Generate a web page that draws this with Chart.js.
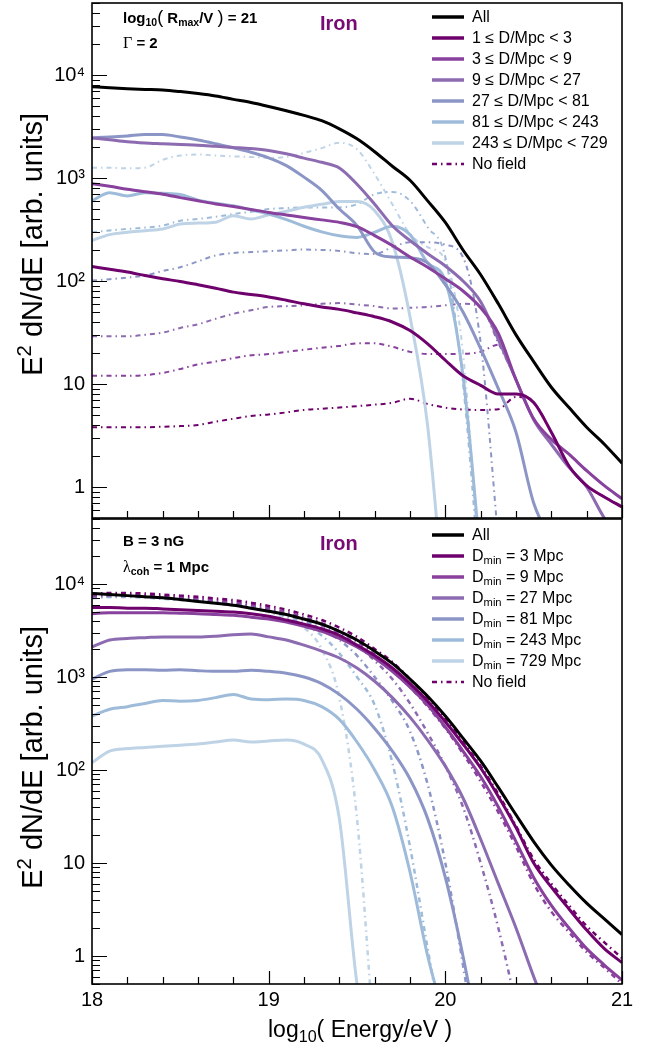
<!DOCTYPE html>
<html><head><meta charset="utf-8">
<script src="https://cdn.jsdelivr.net/npm/chart.js@4.4.0/dist/chart.umd.min.js"></script>
<style>
body{margin:0;background:#fff;width:652px;height:1052px;position:relative;overflow:hidden;font-family:"Liberation Sans",Arial,Helvetica,sans-serif;color:#000;}
canvas{position:absolute;left:0;}
#c1{top:0}
#c2{top:518px}
.t{position:absolute;white-space:nowrap;line-height:20px;}
.b{font-weight:bold;font-size:15px;}
.iron{font-weight:bold;font-size:20px;color:#770a75;}
.lg{position:absolute;left:431px;height:20px;line-height:20px;font-size:16px;white-space:nowrap;}
.lg svg{position:absolute;left:0;top:7px;}
.lg span{position:absolute;left:41px;top:0;}
sub{font-size:70%;vertical-align:-0.3em;line-height:0}
sup{font-size:70%;vertical-align:0.55em;line-height:0}
.ytitle{position:absolute;width:400px;text-align:right;font-size:29px;line-height:29px;transform-origin:left top;transform:rotate(-90deg);white-space:nowrap;}
.xtitle{position:absolute;font-size:23px;line-height:26px;white-space:nowrap;}
.ser{font-family:"Liberation Serif","Times New Roman",serif;font-weight:normal;font-size:16px;}
.par{font-weight:normal;font-size:18px;}
</style></head>
<body>
<canvas id="c1" width="652" height="521"></canvas>
<canvas id="c2" width="652" height="534"></canvas>

<div class="t b" style="left:123px;top:7px;">log<sub>10</sub><span class="par">(</span> R<sub>max</sub>/V <span class="par">)</span> = 21</div>
<div class="t b" style="left:123px;top:33px;"><span class="ser">Γ</span> = 2</div>
<div class="t iron" style="left:320px;top:13px;">Iron</div>

<div class="t b" style="left:123px;top:531px;">B = 3 nG</div>
<div class="t b" style="left:123px;top:557px;"><span class="ser">λ</span><sub>coh</sub> = 1 Mpc</div>
<div class="t iron" style="left:320px;top:533px;">Iron</div>

<div id="leg1"></div>
<div id="leg2"></div>

<div class="ytitle" style="left:18px;top:513px;">E<sup>2</sup> dN/dE [arb. units]</div>
<div class="ytitle" style="left:18px;top:1026px;">E<sup>2</sup> dN/dE [arb. units]</div>
<div class="xtitle" id="xt" style="left:268px;top:1016px;">log<sub>10</sub>( Energy/eV )</div>

<script>
// ---------------- data ----------------
const energy = [18.0,18.1,18.2,18.3,18.4,18.5,18.6,18.7,18.8,18.9,19.0,19.1,19.2,19.3,19.4,19.5,19.6,19.7,19.8,19.9,20.0,20.1,20.2,20.3,20.4,20.5,20.6,20.7,20.8,20.9,21.0];

const yTickValues = [1,10,100,1000,10000];
const yTickLabels = ['1','10','10\u00B2','10\u00B3','10\u2074'];
const xTickValues = [18,19,20,21];
const xTickLabels = ['18','19','20','21'];

// top panel: distance bins, log10(Rmax/V)=21, Gamma=2
const topLabels = ['All','1 \u2264 D/Mpc < 3','3 \u2264 D/Mpc < 9','9 \u2264 D/Mpc < 27','27 \u2264 D/Mpc < 81','81 \u2264 D/Mpc < 243','243 \u2264 D/Mpc < 729','No field'];
const allTop   = [7700,7500,7350,7250,7150,6900,6600,6250,5800,5400,4950,4500,4050,3600,3000,2400,1800,1300,950,600,370,200,115,60,30,16.5,9.3,5.9,3.8,2.6,1.7];
const d1_3     = [138,130,122,113,105,99,92,85,78,74,70,65,60,56,53,49,45,40,33,24.5,17,12,9.7,8.0,8.0,6.6,3.4,1.6,1.03,0.8,0.64];
const d3_9     = [880,830,778,735,695,645,600,560,528,495,463,438,414,392,371,337,276,221,171,136,105,80,55,31,11,4.6,2.9,2.08,1.44,1.03,0.77];
const d9_27    = [2450,2350,2250,2190,2150,2110,2080,2030,1980,1930,1850,1720,1560,1420,1250,870,557,344,247,184,140,100,63,27,11,4.5,2.6,1.55,1.0,0.5,0.3];
const d27_81   = [2450,2500,2560,2640,2640,2500,2340,2150,1960,1780,1570,1320,1020,760,500,345,191,171,168,150,92,50,22,9,3.4,0.7,0.3];
const d81_243  = [600,720,670,720,710,690,610,570,537,490,447,395,340,300,275,265,297,340,282,150,100,12,0.2];
const d243_729 = [247,282,297,308,320,357,365,372,430,400,440,475,520,555,590,590,481,238,45,3.9,0.05];
const nf1_3    = [3.8,3.8,3.8,3.8,3.85,3.9,4.0,4.3,4.6,4.9,5.06,5.3,5.6,5.75,5.9,6.1,6.3,6.56,7.2,6.4,5.9,5.65,5.6,5.7,7.5,6.6,3.4,1.6,1.03,0.8,0.64];
const nf3_9    = [12,12,12,12.2,12.8,14,15.5,16.5,17.8,19,19.5,20.5,21.5,22.5,23.4,24.8,24.8,23,20.5,19.6,19.6,19.6,20.6,24,11,4.6,2.9,2.08,1.44,1.03,0.77];
const nf9_27   = [29,29,29,30,31.5,35,38,43,48,52,56,57,58,60,61,59,57,54,55,56,58,60,56,25,11,4.5,2.6,1.55,1.0,0.5,0.3];
const nf27_81  = [101,104,108,113,125,136,155,177,187,191,195,198,202,200,196,186,183,213,238,238,225,170,25,0.3];
const nf81_243 = [297,310,320,330,345,385,400,420,447,470,499,510,518,518,518,557,695,733,600,332,170,10,0.1];
const nf243_729= [1260,1260,1240,1260,1500,1650,1690,1650,1620,1600,1570,1600,1750,1950,2200,1900,1085,557,286,213,158,20,0.1];

// bottom panel: B = 3 nG, lambda_coh = 1 Mpc, minimum distance
const botLabels = ['All','D<sub>min</sub> = 3 Mpc','D<sub>min</sub> = 9 Mpc','D<sub>min</sub> = 27 Mpc','D<sub>min</sub> = 81 Mpc','D<sub>min</sub> = 243 Mpc','D<sub>min</sub> = 729 Mpc','No field'];
const allBot   = [7900,7700,7500,7300,7100,6800,6500,6200,5900,5500,5100,4700,4200,3700,3100,2500,1900,1400,950,620,380,220,125,65,33,17,9.5,5.8,3.7,2.5,1.7];
const dmin3    = [5600,5600,5500,5500,5400,5300,5200,5100,5000,4800,4500,4100,3700,3300,2800,2200,1700,1250,850,550,330,190,105,52,24,10,5.5,3.2,1.9,1.2,0.85];
const dmin9    = [4800,4900,4900,4900,4900,4850,4800,4700,4600,4400,4200,3900,3500,3100,2600,2100,1600,1150,780,500,290,160,85,40,17,7,3.5,2,1.2,0.8,0.55];
const dmin27   = [2100,2500,2600,2650,2700,2700,2700,2750,2850,2900,2700,2500,2200,1900,1600,1250,900,600,370,210,110,50,18,6,2,0.6,0.2];
const dmin81   = [950,1150,1200,1200,1180,1200,1170,1150,1150,1180,1150,1100,1000,850,650,450,280,160,80,30,7,1.0,0.1];
const dmin243  = [380,450,480,520,560,550,560,600,650,580,570,580,560,480,350,200,100,40,8,1,0.2];
const dmin729  = [120,160,170,175,180,185,190,200,210,200,205,210,190,130,30,0.5,0.05];
const nfb3     = [7800,8000,8000,7900,7700,7500,7300,7000,6700,6300,5800,5300,4700,4100,3400,2700,2000,1450,950,600,360,200,110,55,25,11,6,3.5,2.1,1.4,0.95];
const nfb9     = [7500,7700,7700,7600,7400,7200,7000,6700,6400,6000,5500,5000,4400,3800,3100,2400,1750,1200,780,480,280,150,75,35,15,6,3,1.8,1.1,0.75,0.5];
const nfb27    = [7300,7500,7500,7400,7200,7000,6800,6500,6200,5800,5300,4800,4200,3600,2900,2200,1500,950,520,250,110,40,10,2,0.3];
const nfb81    = [7200,7400,7400,7300,7100,6900,6700,6400,6100,5700,5200,4700,4000,3300,2500,1700,1000,550,260,70,10,0.8,0.05];
const nfb243   = [7100,7300,7300,7200,7000,6800,6600,6300,6000,5600,5100,4500,3700,2800,1800,1000,500,120,15,1.2,0.1];
const nfb729   = [7000,7200,7200,7100,6900,6700,6500,6200,5900,5500,5000,4300,3400,2000,600,30,0.1];

// ---------------- styles ----------------
const COLS = ['#000000','#6e016b','#88419d','#8c6bb1','#8c96c6','#9ebcda','#bfd3e6'];
const DASH = [5,4,1.5,4];

function pts(arr){ const out=[]; for(let i=0;i<arr.length;i++) out.push({x:energy[i], y:arr[i]}); return out; }
function ds(arr,color,w,dash,order){
  return {data:pts(arr), borderColor:color, borderWidth:w, borderDash:dash||[], pointRadius:0, fill:false,
          cubicInterpolationMode:'monotone', order:order, borderCapStyle:'butt', borderJoinStyle:'round'};
}

const frameTicks = {
  id:'frameTicks',
  afterDatasetsDraw(chart){
    const {ctx, chartArea:a, scales:{x,y}} = chart;
    ctx.save();
    ctx.setLineDash([]);
    ctx.strokeStyle='#000';
    ctx.lineWidth=1.2;
    ctx.beginPath();
    for(let e=-1;e<=4;e++){
      for(let m=1;m<=9;m++){
        const v=m*Math.pow(10,e);
        if(v<y.min*0.999||v>y.max*1.001) continue;
        const py=Math.round(y.getPixelForValue(v))+0.5;
        const len=(m===1)?15:8;
        ctx.moveTo(a.left,py); ctx.lineTo(a.left+len,py);
      }
    }
    for(let i=0;i<=15;i++){
      const v=18+i*0.2;
      const px=Math.round(x.getPixelForValue(v))+0.5;
      const len=(i%5===0)?13:7;
      ctx.moveTo(px,a.bottom); ctx.lineTo(px,a.bottom-len);
    }
    ctx.stroke();
    ctx.lineWidth=1.6;
    ctx.strokeRect(a.left,a.top,a.right-a.left,a.bottom-a.top);
    ctx.restore();
  }
};

Chart.defaults.font.family = '"Liberation Sans", Arial, Helvetica, sans-serif';
Chart.defaults.color = '#000';

function makeChart(id, datasets, showX, pad){
  return new Chart(document.getElementById(id), {
    type:'line',
    data:{datasets},
    options:{
      responsive:false, animation:false, devicePixelRatio:1,
      layout:{padding:pad},
      plugins:{legend:{display:false}, tooltip:{enabled:false}},
      scales:{
        x:{type:'linear', min:18, max:21, display:showX,
           grid:{display:false, drawTicks:false}, border:{display:false},
           afterBuildTicks:(s)=>{ s.ticks = xTickValues.map(v=>({value:v})); },
           afterFit:(s)=>{ if(showX) s.height = 68; s.paddingLeft=0; s.paddingRight=0; },
           ticks:{font:{size:20}, padding:4, maxRotation:0, autoSkip:false,
                  callback:(v)=>{ const i=xTickValues.indexOf(v); return i>=0?xTickLabels[i]:''; }}},
        y:{type:'logarithmic', min:0.5, max:50000,
           grid:{display:false, drawTicks:false}, border:{display:false},
           afterBuildTicks:(s)=>{ s.ticks = yTickValues.map(v=>({value:v, major:true})); },
           afterFit:(s)=>{ s.width = 92; s.paddingTop=0; s.paddingBottom=0; },
           ticks:{font:{size:20}, padding:7, autoSkip:false,
                  callback:(v)=>{ const i=yTickValues.indexOf(v); return i>=0?yTickLabels[i]:''; }}}
      }
    },
    plugins:[frameTicks]
  });
}

const topSets = [
  ds(allTop,COLS[0],3,null,0),
  ds(d1_3,COLS[1],3,null,1),
  ds(d3_9,COLS[2],3,null,2),
  ds(d9_27,COLS[3],3,null,3),
  ds(d27_81,COLS[4],3,null,4),
  ds(d81_243,COLS[5],3,null,5),
  ds(d243_729,COLS[6],3,null,6),
  ds(nf1_3,COLS[1],2,DASH,7),
  ds(nf3_9,COLS[2],2,DASH,8),
  ds(nf9_27,COLS[3],2,DASH,9),
  ds(nf27_81,COLS[4],2,DASH,10),
  ds(nf81_243,COLS[5],2,DASH,11),
  ds(nf243_729,COLS[6],2,DASH,12)
];
const botSets = [
  ds(allBot,COLS[0],3,null,0),
  ds(dmin3,COLS[1],3,null,1),
  ds(dmin9,COLS[2],3,null,2),
  ds(dmin27,COLS[3],3,null,3),
  ds(dmin81,COLS[4],3,null,4),
  ds(dmin243,COLS[5],3,null,5),
  ds(dmin729,COLS[6],3,null,6),
  ds(nfb3,COLS[1],2.5,DASH,7),
  ds(nfb9,COLS[2],2.5,DASH,8),
  ds(nfb27,COLS[3],2.5,DASH,9),
  ds(nfb81,COLS[4],2.5,DASH,10),
  ds(nfb243,COLS[5],2.5,DASH,11),
  ds(nfb729,COLS[6],2.5,DASH,12)
];

makeChart('c1', topSets, false, {left:0,right:30,top:3,bottom:3});
makeChart('c2', botSets, true, {left:0,right:30,top:1,bottom:0});

// legends (HTML)
function legend(elId, labels, y0){
  const el=document.getElementById(elId);
  let html='';
  labels.forEach((lab,i)=>{
    const isNF = (i===labels.length-1);
    const col = isNF ? COLS[1] : COLS[i];
    const line = isNF
      ? `<line x1="1" y1="3" x2="33" y2="3" stroke="${col}" stroke-width="2.5" stroke-dasharray="5,4,1.5,4"/>`
      : `<line x1="1" y1="3" x2="33" y2="3" stroke="${col}" stroke-width="3.5"/>`;
    html += `<div class="lg" style="top:${y0+i*21-10}px"><svg width="34" height="6">${line}</svg><span>${lab}</span></div>`;
  });
  el.innerHTML=html;
}
legend('leg1', topLabels, 17);
legend('leg2', botLabels, 535);
</script>
</body></html>
